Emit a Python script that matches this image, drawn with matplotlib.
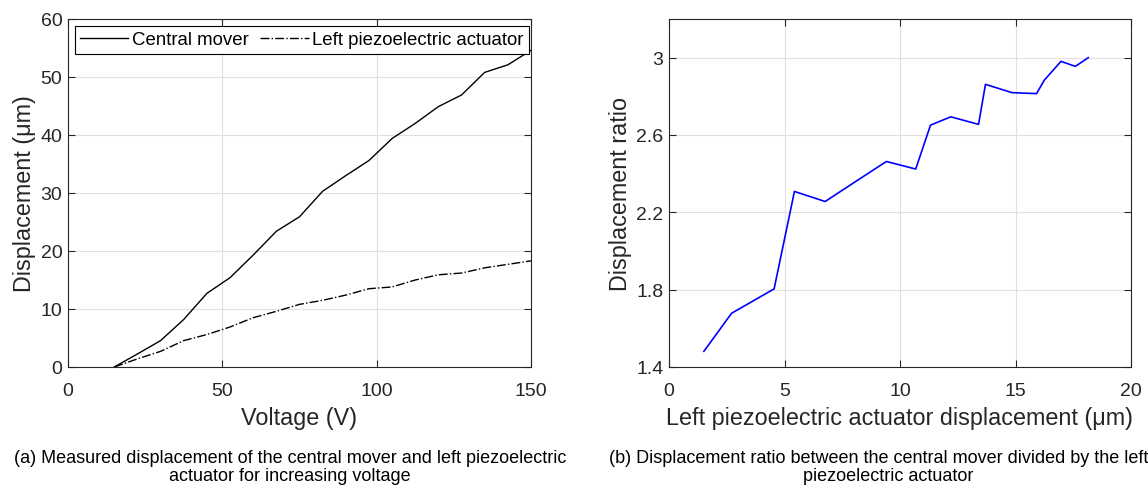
import matplotlib
matplotlib.use("Agg")
import matplotlib.pyplot as plt

# data
voltage = [15, 22.5, 30, 37.5, 45, 52.5, 60, 67.5, 75, 82.5, 90, 97.5,
           105, 112.5, 120, 127.5, 135, 142.5, 150]
central = [0, 2.25, 4.55, 8.2, 12.7, 15.4, 19.3, 23.4, 25.9, 30.3, 33.0,
           35.6, 39.4, 42.0, 44.9, 46.9, 50.8, 52.1, 54.6]
left_piezo = [0, 1.4, 2.7, 4.55, 5.6, 6.9, 8.5, 9.6, 10.8, 11.5, 12.4,
              13.5, 13.8, 15.0, 15.9, 16.2, 17.1, 17.7, 18.3]

ratio_x = [1.51, 2.71, 4.55, 5.43, 6.76, 8.1, 9.41, 10.68, 11.32, 12.20,
           13.40, 13.70, 14.85, 15.91, 16.25, 16.97, 17.59, 18.15]
ratio_y = [1.481, 1.678, 1.804, 2.308, 2.256, 2.361, 2.463, 2.424, 2.651,
           2.694, 2.655, 2.862, 2.819, 2.814, 2.884, 2.981, 2.955, 3.0]

plt.rcParams['font.family'] = ['Liberation Sans', 'DejaVu Sans']
axcol = '0.15'
tick_fs = 14
label_fs = 16.8

fig = plt.figure(figsize=(11.48, 4.89), dpi=100)
ax1 = fig.add_axes([68/1148, 1-368/489, 463/1148, 348/489])
ax2 = fig.add_axes([669/1148, 1-368/489, 462/1148, 348/489])


def style(ax):
    ax.grid(True, color='0.88', linewidth=0.8)
    ax.set_axisbelow(True)
    ax.tick_params(direction='in', top=True, right=True, labelsize=tick_fs,
                   colors=axcol, length=5, width=0.8)
    ax.tick_params(axis='x', pad=11)
    ax.tick_params(axis='y', pad=4)
    for s in ax.spines.values():
        s.set_color(axcol)
        s.set_linewidth(0.8)


ax1.plot(voltage, central, color='k', lw=1.0, label='Central mover')
ax1.plot(voltage, left_piezo, color='k', lw=1.0, ls='-.', label='Left piezoelectric actuator')
ax1.set_xlim(0, 150)
ax1.set_ylim(0, 60)
ax1.set_xticks([0, 50, 100, 150])
ax1.set_yticks(range(0, 61, 10))
ax1.set_xlabel('Voltage (V)', fontsize=label_fs, color=axcol, labelpad=4.5)
ax1.set_ylabel('Displacement (μm)', fontsize=label_fs, color=axcol, labelpad=3)
style(ax1)
leg = ax1.legend(loc='upper left', ncol=2, fontsize=13.4, frameon=True,
                 fancybox=False, framealpha=1, edgecolor='k',
                 handlelength=2.6, handletextpad=0.2, columnspacing=0.6,
                 borderpad=0.3, borderaxespad=0.35)
leg.get_frame().set_linewidth(0.8)

ax2.plot(ratio_x, ratio_y, color='#0000ff', lw=1.2)
ax2.set_xlim(0, 20)
ax2.set_ylim(1.4, 3.2)
ax2.set_xticks([0, 5, 10, 15, 20])
ax2.set_yticks([1.4, 1.8, 2.2, 2.6, 3.0])
ax2.set_yticklabels(['1.4', '1.8', '2.2', '2.6', '3'])
ax2.set_xlabel('Left piezoelectric actuator displacement (μm)', fontsize=label_fs,
               color=axcol, labelpad=4.5)
ax2.set_ylabel('Displacement ratio', fontsize=label_fs, color=axcol, labelpad=3)
style(ax2)

cap = dict(fontsize=13, family=['Liberation Sans', 'DejaVu Sans'])
fig.text(290/1148, 1-459/489, '(a) Measured displacement of the central mover and left piezoelectric',
         ha='center', va='center', **cap)
fig.text(290/1148, 1-477/489, 'actuator for increasing voltage', ha='center', va='center', **cap)
fig.text(609/1148, 1-459/489, '(b) Displacement ratio between the central mover divided by the left',
         ha='left', va='center', **cap)
fig.text(888/1148, 1-477/489, 'piezoelectric actuator', ha='center', va='center', **cap)

fig.savefig('out.png', dpi=100)
